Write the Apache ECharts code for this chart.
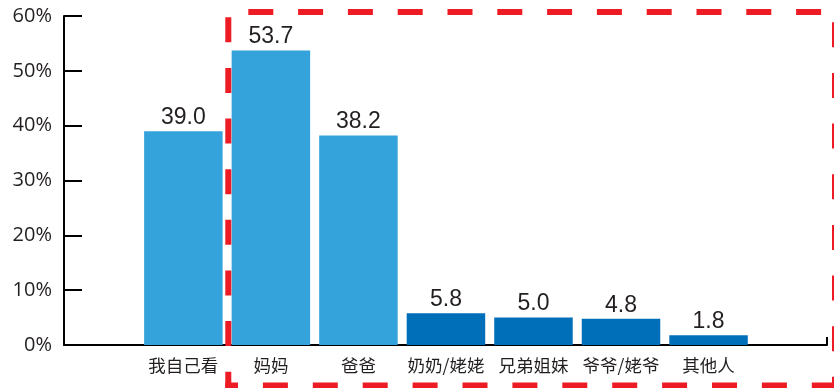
<!DOCTYPE html>
<html>
<head>
<meta charset="utf-8">
<style>
  html, body { margin: 0; padding: 0; background: #ffffff; }
  #chart { width: 834px; height: 388px; }
</style>
<script src="https://cdn.jsdelivr.net/npm/echarts@6/dist/echarts.min.js"></script>
</head>
<body>
<div id="chart"></div>
<script>
// Who reads with the child (percent of respondents)
const categories = ['我自己看', '妈妈', '爸爸', '奶奶/姥姥', '兄弟姐妹', '爷爷/姥爷', '其他人'];
const shares = [39.0, 53.7, 38.2, 5.8, 5.0, 4.8, 1.8];
const yTicks = [0, 10, 20, 30, 40, 50, 60];

const LIGHT = '#34a3dc';
const DARK = '#006fb9';
const TEXT = '#231f20';
const RED = '#ed1c24';

const yMin = yTicks[0];
const yMax = yTicks[yTicks.length - 1];
const yStep = yTicks[1] - yTicks[0];

const chart = echarts.init(document.getElementById('chart'), null, { renderer: 'canvas' });

const gridTop = 16;
const gridBottom = 43;

chart.setOption({
  animation: false,
  backgroundColor: '#ffffff',
  grid: [
    // frame: the y scale and the long baseline
    { left: 64, right: 7, top: gridTop, bottom: gridBottom, containLabel: false },
    // the bars themselves
    { left: 139.6, right: 81.7, top: gridTop, bottom: gridBottom, containLabel: false }
  ],
  xAxis: [
    {
      gridIndex: 0,
      type: 'category',
      data: [''],
      boundaryGap: true,
      axisLine: { show: true, lineStyle: { color: '#000', width: 2 } },
      axisTick: { show: true, inside: true, length: 8, lineStyle: { color: '#000', width: 2 } },
      axisLabel: { show: false },
      splitLine: { show: false }
    },
    {
      gridIndex: 1,
      type: 'category',
      data: categories,
      boundaryGap: true,
      axisLine: { show: false },
      axisTick: { show: false },
      axisLabel: {
        show: true,
        interval: 0,
        margin: 12,
        color: TEXT,
        fontSize: 17.5,
        fontFamily: '"Noto Sans CJK SC", sans-serif'
      },
      splitLine: { show: false }
    }
  ],
  yAxis: [
    {
      gridIndex: 0,
      type: 'value',
      min: yMin,
      max: yMax,
      interval: yStep,
      axisLine: { show: true, lineStyle: { color: '#000', width: 2 } },
      axisTick: { show: true, inside: true, length: 18, lineStyle: { color: '#000', width: 2 } },
      axisLabel: {
        show: true,
        margin: 12,
        formatter: '{value}%',
        color: TEXT,
        fontSize: 20,
        fontFamily: '"Open Sans", sans-serif'
      },
      splitLine: { show: false }
    },
    {
      gridIndex: 1,
      type: 'value',
      min: yMin,
      max: yMax,
      interval: yStep,
      show: false,
      splitLine: { show: false }
    }
  ],
  series: [
    {
      type: 'bar',
      xAxisIndex: 1,
      yAxisIndex: 1,
      data: shares,
      barWidth: 78.5,
      itemStyle: {
        // the three main readers in light blue, other relatives darker
        color: function (p) { return p.dataIndex < 3 ? LIGHT : DARK; }
      },
      label: {
        show: true,
        position: 'top',
        distance: 2,
        color: TEXT,
        fontSize: 23,
        fontFamily: '"Liberation Sans Narrow", "Liberation Sans", sans-serif',
        formatter: function (p) { return p.value.toFixed(1); }
      }
    }
  ],
  graphic: [
    // dashed red frame around the family readers
    {
      type: 'line', silent: true, z: 100,
      shape: { x1: 248.3, y1: 12, x2: 834, y2: 12 },
      style: { stroke: RED, lineWidth: 6, lineDash: [25, 24.8] }
    },
    {
      type: 'line', silent: true, z: 100,
      shape: { x1: 228.3, y1: 17.3, x2: 228.3, y2: 388.5 },
      style: { stroke: RED, lineWidth: 6, lineDash: [25, 25.63] }
    },
    {
      type: 'line', silent: true, z: 100,
      shape: { x1: 225.3, y1: 385.5, x2: 834, y2: 385.5 },
      style: { stroke: RED, lineWidth: 6, lineDash: [25, 24.9], lineDashOffset: 12.3 }
    },
    {
      type: 'line', silent: true, z: 100,
      shape: { x1: 835, y1: 22.3, x2: 835, y2: 388.5 },
      style: { stroke: RED, lineWidth: 6, lineDash: [25, 25.65] }
    }
  ]
});
</script>
</body>
</html>
